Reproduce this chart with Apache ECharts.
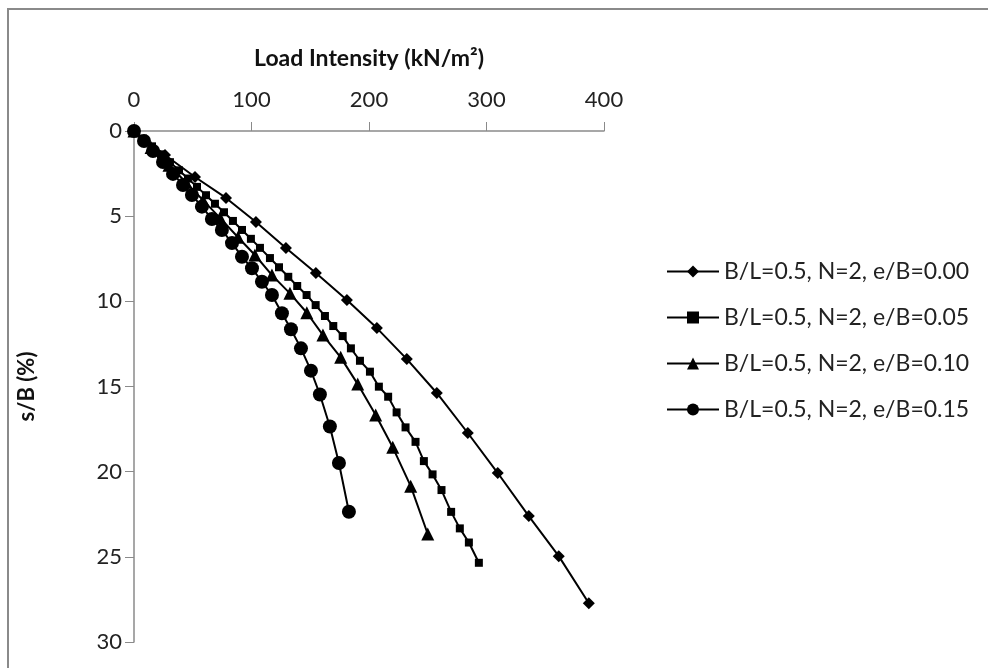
<!DOCTYPE html>
<html><head><meta charset="utf-8">
<script src="https://cdn.jsdelivr.net/npm/echarts@6/dist/echarts.min.js"></script>
<style>html,body{margin:0;padding:0;background:#fff}#c{width:988px;height:668px}</style>
</head><body><div id="c"></div>
<script>
const seriesNames = ['B/L=0.5, N=2, e/B=0.00','B/L=0.5, N=2, e/B=0.05','B/L=0.5, N=2, e/B=0.10','B/L=0.5, N=2, e/B=0.15'];
const xTicks = [0,100,200,300,400];
const yTicks = [0,5,10,15,20,25,30];

const load00 = [0,26.4,51.9,78.3,103.8,129.3,154.8,181.2,206.7,232.2,257.7,284.1,309.6,336.0,361.5,387.1];
const sB00   = [0,1.41,2.70,3.93,5.34,6.87,8.34,9.92,11.57,13.39,15.38,17.73,20.08,22.61,24.96,27.72];

const load05 = [0,7.7,15.3,23.0,30.6,38.3,45.9,53.6,61.3,68.9,76.6,84.2,91.9,99.5,107.2,115.7,123.4,131.3,138.9,146.9,154.6,162.5,169.6,177.6,184.6,192.3,200.8,208.4,216.3,223.5,231.1,239.6,246.7,254.1,261.7,269.9,277.3,285.0,293.5];
const sB05   = [0,0.45,0.90,1.37,1.83,2.31,2.79,3.28,3.77,4.27,4.77,5.28,5.81,6.33,6.86,7.46,8.00,8.56,9.10,9.63,10.22,10.86,11.45,12.04,12.76,13.49,14.13,15.01,15.60,16.52,17.40,18.25,19.38,20.16,21.08,22.36,23.33,24.16,25.35];

const load10 = [0,14.5,29.8,44.2,58.7,73.2,88.5,102.9,117.4,132.7,147.1,160.8,175.9,190.4,205.7,220.2,235.5,250.0];
const sB10   = [0,0.97,2.01,3.01,4.06,5.10,6.24,7.28,8.46,9.53,10.67,11.98,13.29,14.86,16.67,18.57,20.85,23.66];

const load15 = [0,8.5,16.2,24.7,33.2,41.7,49.3,57.8,66.3,74.8,83.4,91.9,100.4,108.9,117.4,125.9,133.6,142.1,150.6,158.2,166.7,174.4,182.9];
const sB15   = [0,0.59,1.17,1.82,2.52,3.17,3.76,4.44,5.17,5.81,6.58,7.38,8.06,8.85,9.63,10.70,11.64,12.76,14.07,15.47,17.35,19.49,22.35];

const pairs = (a,b)=>a.map((v,i)=>[v,b[i]]);
const font = 'Lato, "Open Sans", sans-serif';
const symbols = ['diamond','rect','triangle','circle'];
const sizes = [12,8,13,14];
const datas = [pairs(load00,sB00),pairs(load05,sB05),pairs(load10,sB10),pairs(load15,sB15)];

const chart = echarts.init(document.getElementById('c'));
chart.setOption({
  animation:false,
  backgroundColor:'#fff',
  graphic:[{type:'rect',shape:{x:8,y:9,width:1000,height:700},style:{fill:'none',stroke:'#8a8a8a',lineWidth:2}}],
  grid:{left:134,top:131,width:470,height:511},
  legend:{
    orient:'vertical',left:666,top:260,padding:0,itemWidth:52,itemHeight:15,itemGap:23,
    textStyle:{fontFamily:font,fontSize:23,lineHeight:23,color:'#222'},
    data:seriesNames
  },
  xAxis:{
    type:'value',position:'top',min:0,max:400,interval:100,
    name:'Load Intensity (kN/m²)',nameLocation:'middle',nameGap:61,
    nameTextStyle:{fontFamily:font,fontSize:23,fontWeight:'bold',color:'#111'},
    axisLine:{show:true,lineStyle:{color:'#8a8a8a',width:1.5}},
    axisTick:{show:true,length:9,lineStyle:{color:'#8a8a8a'}},
    axisLabel:{fontFamily:font,fontSize:22,color:'#222',margin:20},
    splitLine:{show:false}
  },
  yAxis:{
    type:'value',inverse:true,min:0,max:30,interval:5,
    name:'s/B (%)',nameLocation:'middle',nameGap:96,nameRotate:90,
    nameTextStyle:{fontFamily:font,fontSize:22,fontWeight:'bold',color:'#111'},
    axisLine:{show:true,lineStyle:{color:'#8a8a8a',width:1.5}},
    axisTick:{show:true,length:9,lineStyle:{color:'#8a8a8a'}},
    axisLabel:{fontFamily:font,fontSize:22,color:'#222',margin:12},
    splitLine:{show:false}
  },
  series:datas.map((d,i)=>({
    name:seriesNames[i],type:'line',data:d,symbol:symbols[i],symbolSize:sizes[i],
    showAllSymbol:true,
    lineStyle:{color:'#000',width:2},itemStyle:{color:'#000'},smooth:false
  }))
});
</script></body></html>
